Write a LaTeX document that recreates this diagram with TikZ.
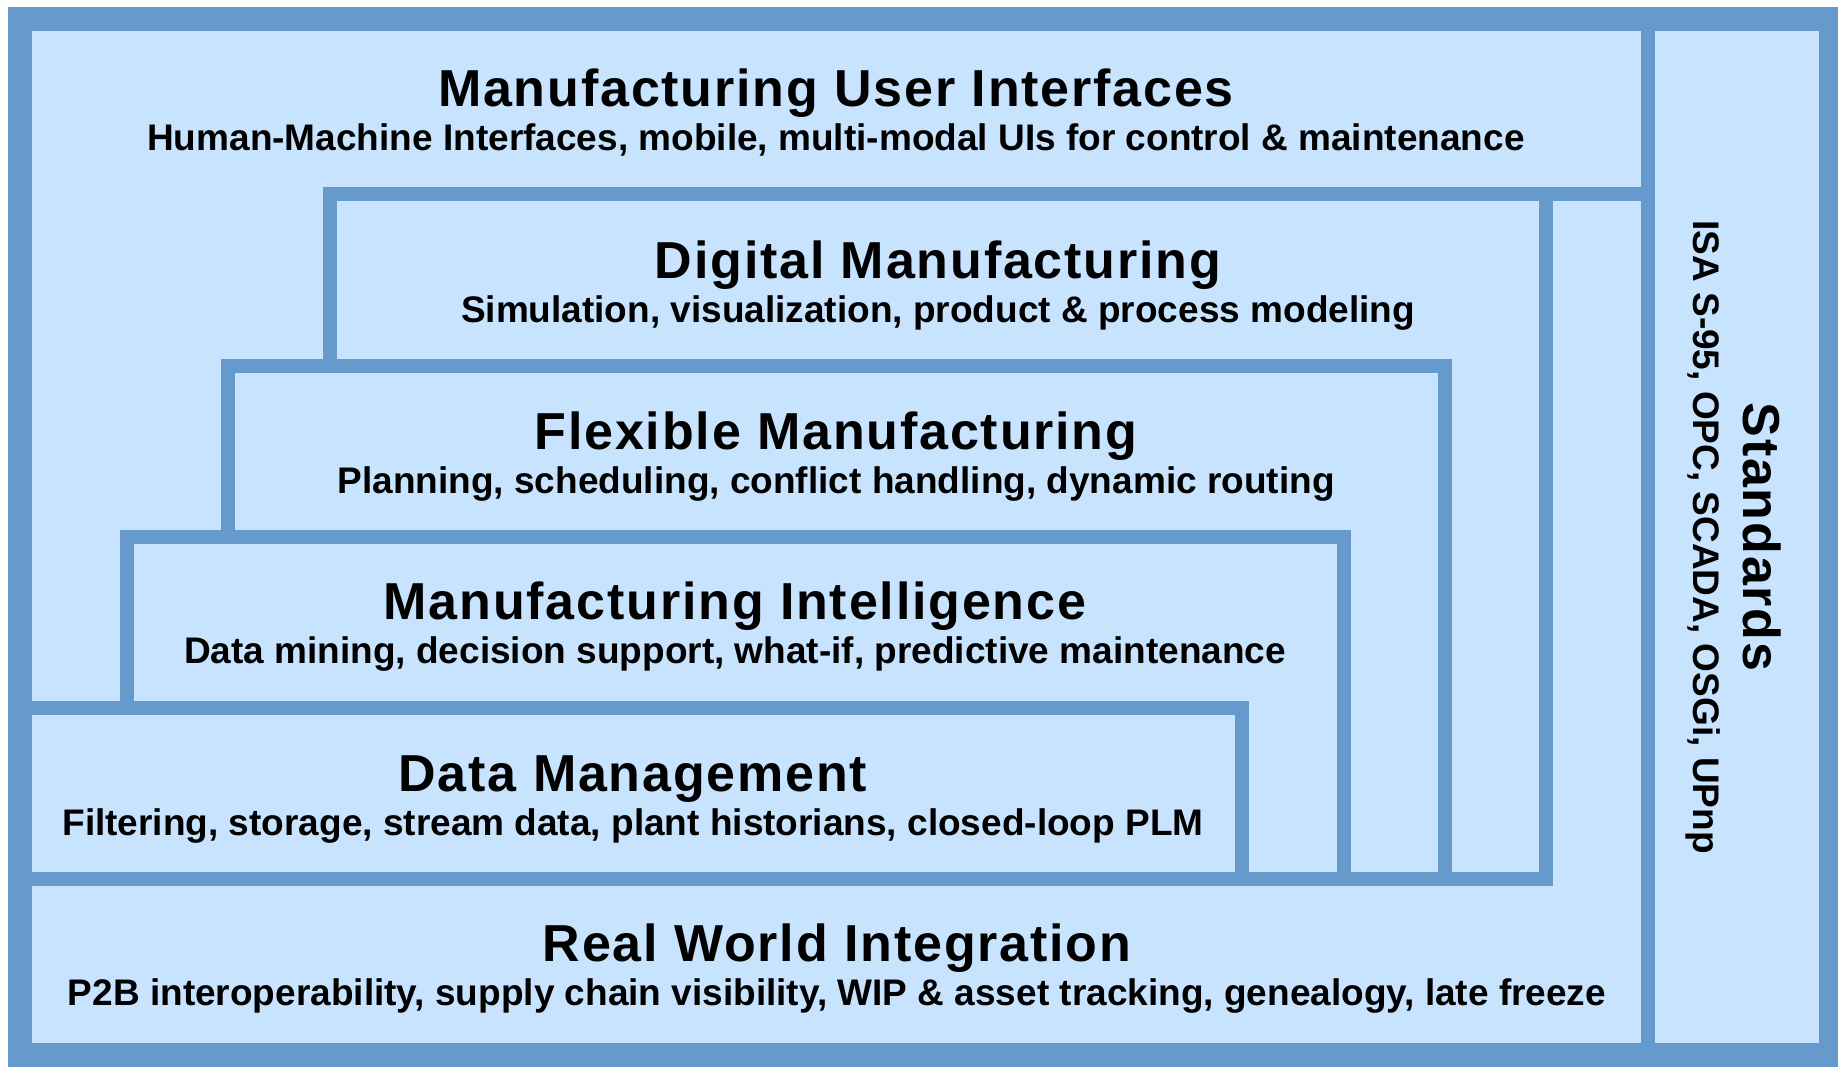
\documentclass[tikz,border=0pt]{standalone}
\usepackage{fontspec}
\setmainfont{Liberation Sans}
\newfontfamily\titlefont[LetterSpace=3.5]{Liberation Sans}

\begin{document}
\begin{tikzpicture}[x=1pt,y=-1pt,
  layerbox/.style={draw=frameblue,line width=14,fill=paleblue},
  layertitle/.style={anchor=base,inner sep=0,font=\titlefont\bfseries\fontsize{52}{62}\selectfont},
  layertext/.style={anchor=base,inner sep=0,font=\bfseries\fontsize{37}{44}\selectfont}]
\definecolor{frameblue}{HTML}{6699CC}
\definecolor{paleblue}{HTML}{C8E3FE}
\useasboundingbox (0,0) rectangle (1838,1067);
\fill[paleblue] (20,19) rectangle (1831,1055);
% the stair of layers, back to front
\draw[layerbox] (329.5,194.5) rectangle (1546,878.5);
\draw[layerbox] (228,365.5) rectangle (1445,878.5);
\draw[layerbox] (127,536.5) rectangle (1343.5,878.5);
\draw[layerbox] (20,707.5) rectangle (1242,878.5);
\draw[frameblue,line width=14] (329.5,194.5) -- (1648,194.5);
\draw[frameblue,line width=14] (1648,31) -- (1648,1043);
% outer frame
\draw[frameblue,line width=24] (20,19) rectangle (1831,1055);
  \foreach \lay/\cx/\ty/\ttl/\sub in {
    ui/836/31/Manufacturing User Interfaces/{Human-Machine Interfaces, mobile, multi-modal UIs for control \& maintenance},
    dig/938/202/Digital Manufacturing/{Simulation, visualization, product \& process modeling},
    flex/836/373/Flexible Manufacturing/{Planning, scheduling, conflict handling, dynamic routing},
    intel/735/543/Manufacturing Intelligence/{Data mining, decision support, what-if, predictive maintenance},
    data/633/715/Data Management/{Filtering, storage, stream data, plant historians, closed-loop PLM},
    real/837/885/Real World Integration/{P2B interoperability, supply chain visibility, WIP \& asset tracking, genealogy, late freeze}}
  {  \node[layertitle] (\lay-title) at (\cx,\ty+76) {\ttl};
     \node[layertext] (\lay-text) at (\cx,\ty+120) {\sub};}
\node[layertitle,rotate=-90] (std-title) at (1743,537) {Standards};
\node[layertext,rotate=-90] (std-text) at (1693,537) {ISA S-95, OPC, SCADA, OSGi, UPnp};
\end{tikzpicture}
\end{document}
